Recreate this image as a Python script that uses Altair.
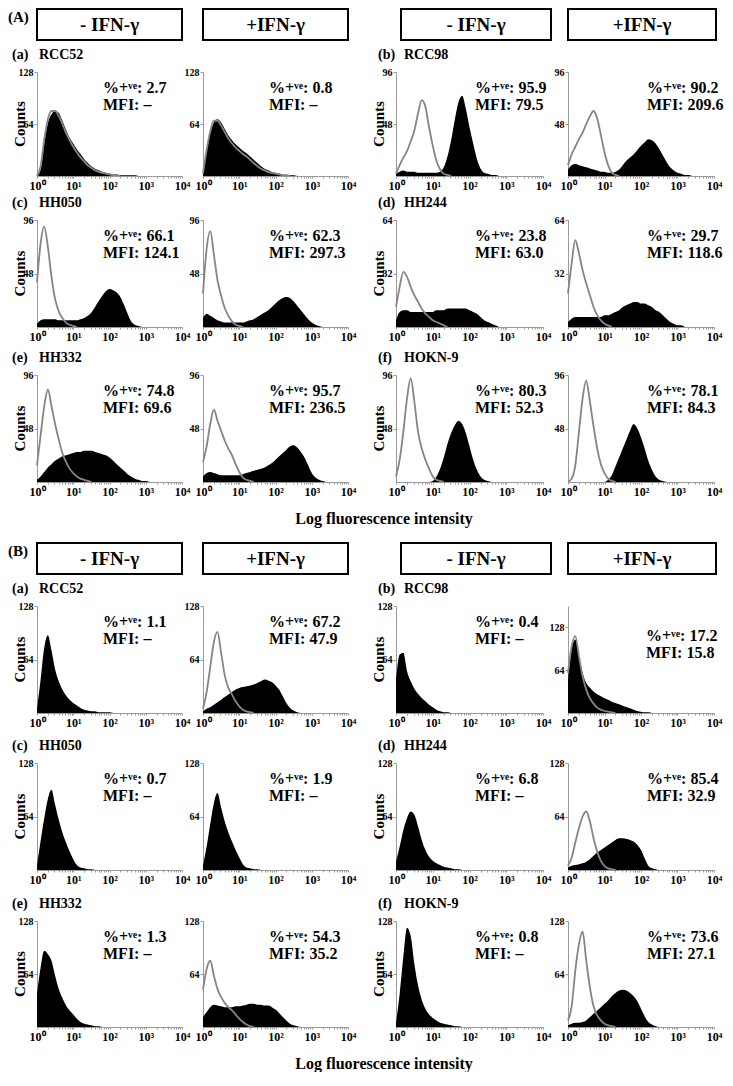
import altair as alt
import pandas as pd

# log10 fluorescence-intensity bin centres (0.1-decade bins from 10^0 to 10^4)
LOG_BINS = [i / 10 for i in range(41)]

# ---------------- (A) counts per bin: stained (black fill) / control (grey outline)
A_RCC52_NEG = [0, 8, 40, 65, 76, 80, 78, 68, 57, 47, 40, 33, 27, 21, 16, 12, 9, 7, 5, 4, 3, 2, 2, 1, 1, 1, 1, 1, 0]
A_RCC52_NEG_CTRL = [0, 12, 45, 70, 80, 80, 74, 64, 53, 44, 36, 29, 23, 18, 13, 10, 7, 5, 4, 3, 2, 1, 1, 0]
A_RCC52_POS = [2, 30, 52, 66, 70, 66, 58, 50, 44, 39, 35, 31, 28, 24, 20, 16, 12, 9, 7, 5, 4, 3, 2, 1, 1, 1, 0]
A_RCC52_POS_CTRL = [3, 32, 55, 68, 68, 62, 54, 46, 40, 35, 31, 27, 24, 20, 16, 12, 9, 7, 5, 4, 3, 2, 1, 1, 0]

A_RCC98_NEG = [2, 4, 5, 4, 4, 4, 3, 3, 3, 3, 3, 3, 4, 8, 18, 33, 52, 68, 74, 62, 45, 30, 16, 7, 3, 2, 1, 1, 0]
A_RCC98_NEG_CTRL = [2, 10, 17, 23, 32, 42, 58, 70, 64, 45, 28, 14, 6, 2, 1, 0]
A_RCC98_POS = [6, 10, 11, 10, 9, 8, 7, 6, 5, 4, 4, 3, 3, 4, 6, 10, 14, 17, 20, 24, 28, 31, 34, 33, 30, 25, 19, 13, 8, 5, 3, 2, 1, 1, 0]
A_RCC98_POS_CTRL = [10, 20, 27, 34, 40, 48, 55, 60, 53, 38, 22, 10, 3, 1, 0]

A_HH050_NEG = [3, 6, 7, 7, 7, 7, 6, 6, 6, 6, 6, 6, 7, 8, 10, 13, 18, 23, 28, 32, 34, 33, 31, 27, 20, 12, 5, 2, 1, 0]
A_HH050_NEG_CTRL = [40, 75, 90, 72, 45, 25, 14, 8, 4, 2, 1, 0]
A_HH050_POS = [8, 12, 10, 8, 6, 5, 4, 4, 4, 4, 4, 4, 5, 6, 7, 9, 11, 13, 15, 18, 21, 24, 26, 27, 26, 23, 19, 15, 11, 7, 4, 2, 1, 0]
A_HH050_POS_CTRL = [30, 70, 86, 65, 42, 28, 17, 10, 5, 2, 1, 0]

A_HH244_NEG = [4, 9, 10, 10, 9, 9, 9, 9, 9, 9, 9, 10, 10, 10, 11, 11, 11, 11, 11, 11, 10, 9, 8, 6, 4, 3, 2, 1, 0]
A_HH244_NEG_CTRL = [12, 24, 33, 30, 24, 19, 15, 11, 8, 6, 4, 3, 2, 1, 0]
A_HH244_POS = [3, 5, 6, 6, 6, 6, 6, 6, 6, 6, 7, 7, 8, 9, 10, 12, 13, 14, 15, 15, 14, 14, 13, 12, 10, 9, 7, 5, 3, 2, 1, 1, 0]
A_HH244_POS_CTRL = [20, 38, 52, 44, 34, 26, 19, 12, 7, 4, 2, 1, 0]

A_HH332_NEG = [2, 5, 9, 13, 16, 19, 21, 23, 24, 25, 26, 27, 27, 28, 28, 28, 27, 26, 25, 24, 22, 19, 16, 13, 10, 7, 5, 3, 2, 1, 1, 0]
A_HH332_NEG_CTRL = [15, 42, 68, 83, 68, 52, 38, 26, 18, 12, 8, 5, 3, 2, 1, 0]
A_HH332_POS = [5, 8, 9, 8, 7, 6, 6, 6, 6, 6, 6, 7, 8, 9, 10, 11, 12, 13, 15, 17, 20, 23, 26, 29, 32, 33, 31, 27, 22, 15, 8, 4, 2, 1, 0]
A_HH332_POS_CTRL = [18, 32, 52, 65, 55, 46, 37, 30, 24, 16, 9, 4, 2, 1, 0]

A_HOKN9_NEG = [0, 0, 0, 0, 0, 0, 0, 0, 0, 0, 1, 5, 12, 22, 34, 44, 51, 55, 52, 44, 32, 20, 11, 5, 2, 1, 0]
A_HOKN9_NEG_CTRL = [5, 20, 45, 75, 93, 72, 45, 30, 20, 12, 5, 2, 1, 0]
A_HOKN9_POS = [0, 0, 0, 0, 0, 0, 0, 0, 0, 0, 0, 2, 6, 14, 22, 30, 38, 46, 52, 48, 40, 30, 19, 11, 5, 2, 1, 0]
A_HOKN9_POS_CTRL = [0, 3, 15, 45, 75, 91, 72, 50, 30, 16, 8, 3, 1, 0]

# ---------------- (B)
B_RCC52_NEG = [5, 40, 78, 93, 75, 52, 38, 28, 21, 16, 12, 9, 6, 4, 3, 2, 2, 1, 1, 1, 1, 0]
B_RCC52_POS = [2, 5, 7, 10, 13, 16, 19, 22, 25, 28, 30, 31, 32, 33, 34, 36, 38, 40, 39, 37, 33, 28, 20, 12, 6, 3, 1, 0]
B_RCC52_POS_CTRL = [5, 25, 55, 85, 97, 72, 45, 30, 22, 14, 8, 4, 2, 1, 0]

B_RCC98_NEG = [40, 70, 72, 50, 38, 29, 23, 18, 14, 10, 7, 4, 2, 1, 1, 0]
B_RCC98_POS = [50, 95, 110, 85, 60, 45, 38, 32, 28, 25, 22, 20, 17, 15, 13, 11, 9, 7, 5, 3, 2, 1, 1, 0]
B_RCC98_POS_CTRL = [60, 100, 115, 85, 55, 35, 22, 14, 8, 5, 3, 2, 1, 0]

B_HH050_NEG = [5, 35, 62, 85, 96, 78, 60, 45, 33, 22, 13, 6, 3, 2, 1, 1, 0]
B_HH050_POS = [5, 28, 55, 80, 92, 75, 58, 45, 34, 24, 15, 7, 3, 2, 1, 1, 0]

B_HH244_NEG = [10, 28, 48, 62, 70, 66, 52, 36, 24, 16, 11, 8, 6, 4, 3, 2, 1, 1, 0]
B_HH244_POS = [3, 5, 6, 7, 8, 10, 13, 17, 21, 24, 27, 30, 33, 36, 38, 38, 37, 36, 34, 30, 24, 14, 5, 2, 1, 0]
B_HH244_POS_CTRL = [5, 15, 33, 50, 64, 70, 58, 38, 22, 11, 5, 2, 1, 0]

B_HH332_NEG = [40, 72, 92, 88, 80, 62, 46, 35, 26, 20, 15, 10, 6, 4, 3, 2, 1, 1, 0]
B_HH332_POS = [12, 18, 24, 27, 26, 25, 24, 24, 24, 25, 25, 26, 27, 28, 28, 27, 27, 26, 26, 24, 21, 17, 12, 8, 4, 2, 1, 0]
B_HH332_POS_CTRL = [45, 70, 80, 62, 46, 36, 29, 24, 20, 15, 10, 6, 3, 1, 0]

B_HOKN9_NEG = [5, 40, 85, 120, 110, 76, 50, 33, 22, 15, 11, 8, 5, 4, 3, 2, 1, 1, 0]
B_HOKN9_POS = [2, 4, 5, 5, 6, 8, 12, 16, 20, 24, 28, 32, 37, 41, 44, 45, 44, 41, 37, 31, 22, 13, 6, 3, 1, 0]
B_HOKN9_POS_CTRL = [8, 25, 68, 100, 115, 80, 48, 25, 14, 8, 4, 2, 1, 0]

# ---------------- labels
CELLS = ["RCC52", "RCC98", "HH050", "HH244", "HH332", "HOKN-9"]
LETTERS = ["(a)", "(b)", "(c)", "(d)", "(e)", "(f)"]
CONDITIONS = ["- IFN-γ", "+IFN-γ"]

A_STAINED = [[A_RCC52_NEG, A_RCC52_POS], [A_RCC98_NEG, A_RCC98_POS], [A_HH050_NEG, A_HH050_POS],
             [A_HH244_NEG, A_HH244_POS], [A_HH332_NEG, A_HH332_POS], [A_HOKN9_NEG, A_HOKN9_POS]]
A_CONTROL = [[A_RCC52_NEG_CTRL, A_RCC52_POS_CTRL], [A_RCC98_NEG_CTRL, A_RCC98_POS_CTRL],
             [A_HH050_NEG_CTRL, A_HH050_POS_CTRL], [A_HH244_NEG_CTRL, A_HH244_POS_CTRL],
             [A_HH332_NEG_CTRL, A_HH332_POS_CTRL], [A_HOKN9_NEG_CTRL, A_HOKN9_POS_CTRL]]
B_STAINED = [[B_RCC52_NEG, B_RCC52_POS], [B_RCC98_NEG, B_RCC98_POS], [B_HH050_NEG, B_HH050_POS],
             [B_HH244_NEG, B_HH244_POS], [B_HH332_NEG, B_HH332_POS], [B_HOKN9_NEG, B_HOKN9_POS]]
B_CONTROL = [[None, B_RCC52_POS_CTRL], [None, B_RCC98_POS_CTRL], [None, None],
             [None, B_HH244_POS_CTRL], [None, B_HH332_POS_CTRL], [None, B_HOKN9_POS_CTRL]]

A_PCT = [["2.7", "0.8"], ["95.9", "90.2"], ["66.1", "62.3"], ["23.8", "29.7"], ["74.8", "95.7"], ["80.3", "78.1"]]
A_MFI = [["–", "–"], ["79.5", "209.6"], ["124.1", "297.3"], ["63.0", "118.6"], ["69.6", "236.5"], ["52.3", "84.3"]]
B_PCT = [["1.1", "67.2"], ["0.4", "17.2"], ["0.7", "1.9"], ["6.8", "85.4"], ["1.3", "54.3"], ["0.8", "73.6"]]
B_MFI = [["–", "47.9"], ["–", "15.8"], ["–", "–"], ["–", "32.9"], ["–", "35.2"], ["–", "27.1"]]

A_YTOP = [[128, 128], [96, 96], [96, 96], [64, 64], [96, 96], [96, 96]]
A_YDOM = [[128, 128], [96, 96], [96, 96], [64, 64], [96, 96], [96, 96]]
B_YTOP = [[128, 128], [128, 128], [128, 128], [128, 128], [128, 128], [128, 128]]
B_YDOM = [[128, 128], [128, 160], [128, 128], [128, 128], [128, 128], [128, 128]]

FONT = "Liberation Serif"
COL_W = [145, 145, 147, 146]           # plot widths of the four panel columns
COL_GAPS = [21, 48, 25]                # horizontal gaps between them
ROW_H = [[104, 107, 107], [107, 107, 106]]   # plot heights, rows a/c/e of (A) and (B)
ROW_GAPS = [44, 48, 124, 50, 51]       # vertical gaps between the six panel rows
X_TICKS = [m * 10 ** d for d in range(4) for m in range(1, 10)] + [10000]
X_LABELS = ("datum.value==1?'10⁰':datum.value==10?'10¹':datum.value==100?'10²':"
            "datum.value==1000?'10³':datum.value==10000?'10⁴':''")


def txt(s, x, y, size=16, align="left", angle=0):
    return alt.Chart(pd.DataFrame({"t": [s]})).mark_text(
        align=align, baseline="middle", font=FONT, fontWeight="bold",
        fontSize=size, angle=angle, color="black"
    ).encode(x=alt.value(x), y=alt.value(y), text="t:N")


def spacer(w, h):
    return alt.Chart(pd.DataFrame({"k": [0]})).mark_point(opacity=0).encode(
        x=alt.value(0), y=alt.value(0)).properties(width=w, height=h)


def enc_x():
    return alt.X("x:Q", title=None,
                 scale=alt.Scale(type="log", domain=[1, 10000]),
                 axis=alt.Axis(values=X_TICKS, labelExpr=X_LABELS, tickSize=2,
                               tickColor="#9a9a9a", domainColor="#9a9a9a", grid=False,
                               labelFont=FONT, labelFontWeight="bold", labelFontSize=12,
                               labelColor="black", labelPadding=2, labelFlush=False,
                               labelOverlap=False, labelBound=False))


def enc_y(ytop, ydom):
    return alt.Y("c:Q", title=None,
                 scale=alt.Scale(domain=[0, ydom], nice=False, zero=True),
                 axis=alt.Axis(values=[ytop // 2, ytop], tickSize=3, tickColor="#9a9a9a",
                               domainColor="#9a9a9a", grid=False, labelFont=FONT,
                               labelFontWeight="bold", labelFontSize=10, labelColor="black",
                               labelPadding=1, labelFlush=False))


def panel(sec, k, j, stained, control, ytop, ydom, pct, mfi, w, h):
    g = k % 2
    r = k // 2
    df_s = pd.DataFrame({"x": [10 ** v for v in LOG_BINS[:len(stained)]], "c": stained})
    layers = [alt.Chart(df_s).mark_area(color="black", interpolate="monotone")
              .encode(x=enc_x(), y=enc_y(ytop, ydom))]
    if control is not None:
        df_c = pd.DataFrame({"x": [10 ** v for v in LOG_BINS[:len(control)]], "c": control})
        layers.append(alt.Chart(df_c).mark_line(color="#858585", strokeWidth=1.8,
                                                interpolate="monotone")
                      .encode(x=enc_x(), y=enc_y(ytop, ydom)))
    px = 66 if g == 0 else 79
    py1, py2 = 16, 33
    if ydom > ytop:
        px, py1, py2 = 78, 30, 47
    layers.append(txt("%+ᵛᵉ: " + pct, px, py1))
    layers.append(txt("MFI: " + mfi, px, py2))
    if j == 0:
        layers.append(txt("Counts", -17, h / 2, size=15, align="center", angle=270))
        layers.append(txt(LETTERS[k], -25 if g == 0 else -18, -17, size=14))
        layers.append(txt(CELLS[k], 2 if g == 0 else 8, -17, size=14))
    if r == 0:
        if g == 0:
            x0, x1 = 0, w
        else:
            x0, x1 = (5, w + 8) if j == 0 else (0, w + 2)
        layers.append(alt.Chart(pd.DataFrame({"k": [0]})).mark_rect(
            fill="white", stroke="black", strokeWidth=2
        ).encode(x=alt.value(x0), x2=alt.value(x1), y=alt.value(-63), y2=alt.value(-32)))
        layers.append(txt(CONDITIONS[j], (x0 + x1) / 2, -47, size=19, align="center"))
        if k == 0 and j == 0:
            layers.append(txt(sec, -29, -55, size=15))
    if r == 2 and g == 0 and j == 1:
        layers.append(txt("Log fluorescence intensity", 181, h + 37, size=16, align="center"))
    return alt.layer(*layers).properties(width=w, height=h)


def section_rows(si, sec, stained, control, ytop, ydom, pcts, mfis):
    rows = []
    for r in range(3):
        cells = []
        for col in range(4):
            g, j = col // 2, col % 2
            k = r * 2 + g
            cells.append(panel(sec, k, j, stained[k][j], control[k][j], ytop[k][j],
                               ydom[k][j], pcts[k][j], mfis[k][j], COL_W[col], ROW_H[si][r]))
            if col < 3:
                cells.append(spacer(COL_GAPS[col], 1))
        rows.append(cells)
    return rows


panel_rows = section_rows(0, "(A)", A_STAINED, A_CONTROL, A_YTOP, A_YDOM, A_PCT, A_MFI)
panel_rows += section_rows(1, "(B)", B_STAINED, B_CONTROL, B_YTOP, B_YDOM, B_PCT, B_MFI)

cells = []
for i, row in enumerate(panel_rows):
    cells += row
    if i < len(ROW_GAPS):
        cells += [spacer(1, ROW_GAPS[i]) for _ in range(7)]

chart = alt.concat(
    *cells, columns=7, spacing=0, bounds="flush", align="each"
).properties(padding=0).configure_view(stroke=None)

chart.save("out.html", embed_options={"renderer": "svg", "actions": False})
